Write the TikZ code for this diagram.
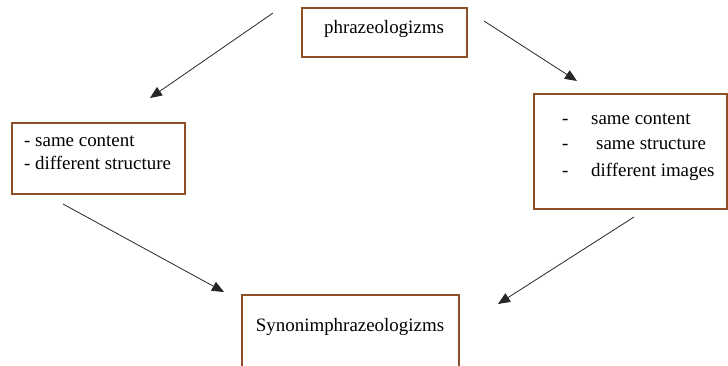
\documentclass[tikz,border=0pt]{standalone}
\usepackage{fontspec}
\setmainfont{Liberation Serif}
\usetikzlibrary{arrows.meta}
\definecolor{boxbrown}{RGB}{140,80,40}
\tikzset{
  box/.style={draw=boxbrown, line width=1.6bp},
  txt/.style={font=\fontsize{19}{22}\selectfont, inner sep=0pt, anchor=base west},
  arr/.style={draw=black!85, line width=0.8bp, -{Triangle[length=12bp,width=10bp]}}
}
\begin{document}
\begin{tikzpicture}[x=1bp,y=-1bp]
\useasboundingbox (0,0) rectangle (728,365);
% boxes
\draw[box] (302,8) rectangle (467,57);
\node[txt, anchor=base] (top) at (384,33) {phrazeologizms};
\draw[box] (12,123) rectangle (185,194);
\node[txt] (l1) at (24,146) {- same content};
\node[txt] (l2) at (24,169) {- different structure};
\draw[box] (534,94) rectangle (727,209);
\node[txt] (r1d) at (562,124) {-};
\node[txt] (r1) at (591,124) {same content};
\node[txt] (r2d) at (562,149) {-};
\node[txt] (r2) at (596,149) {same structure};
\node[txt] (r3d) at (562,176) {-};
\node[txt] (r3) at (591,176) {different images};
\draw[box] (242,366) -- (242,295) -- (459,295) -- (459,366);
\node[txt, anchor=base] (bot) at (350,331) {Synonimphrazeologizms};
% arrow endpoints
\coordinate (a1s) at (273,13);  \coordinate (a1e) at (150,98);
\coordinate (a2s) at (484,21);  \coordinate (a2e) at (577,81);
\coordinate (a3s) at (63,204);  \coordinate (a3e) at (224,292);
\coordinate (a4s) at (634,217); \coordinate (a4e) at (498,304);
\draw[arr] (a1s) -- (a1e);
\draw[arr] (a2s) -- (a2e);
\draw[arr] (a3s) -- (a3e);
\draw[arr] (a4s) -- (a4e);
\end{tikzpicture}
\end{document}
